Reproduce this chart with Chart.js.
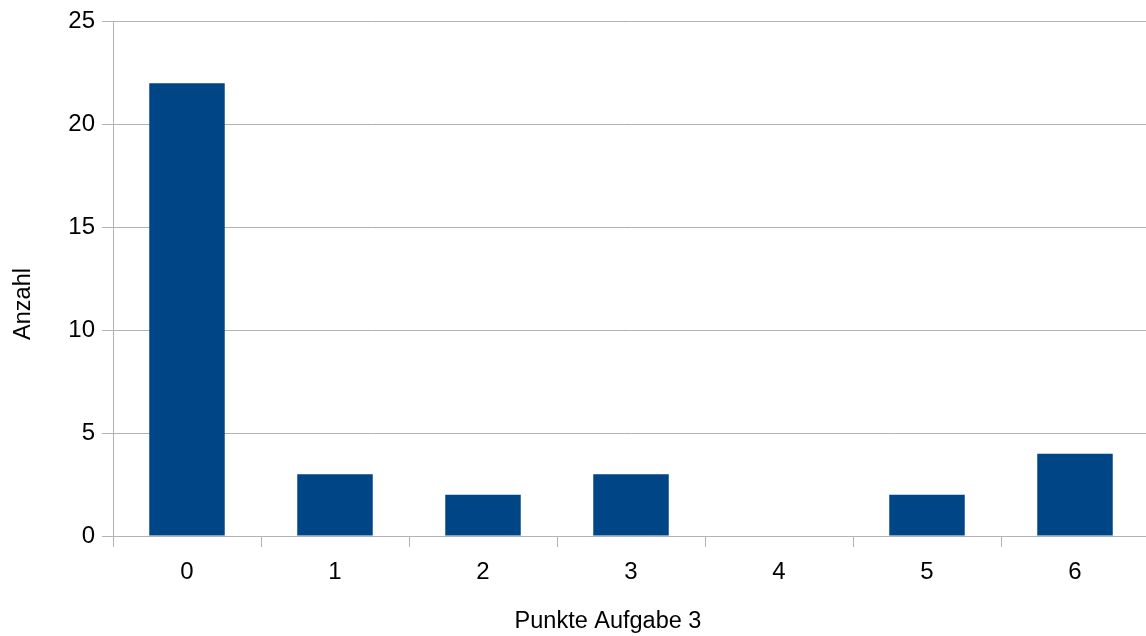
<!DOCTYPE html>
<html>
<head>
<meta charset="utf-8">
<script src="https://cdn.jsdelivr.net/npm/chart.js@4/dist/chart.umd.min.js"></script>
<style>
  html, body { margin: 0; padding: 0; background: #fff; overflow: hidden; }
</style>
</head>
<body>
<!-- plot runs a few px past the right edge in the original -->
<canvas id="chart" width="1149" height="636"></canvas>
<script>
const punkte = ['0', '1', '2', '3', '4', '5', '6'];
const anzahl = [22, 3, 2, 3, 0, 2, 4];
const yTicks = [0, 5, 10, 15, 20, 25];
const xTitle = 'Punkte Aufgabe 3';
const yTitle = 'Anzahl';

const gridGrey = '#b3b3b3';
const fontName = '"Liberation Sans", Arial, sans-serif';

// axis titles sit off-centre in the original, so draw them by hand
const axisTitles = {
    id: 'axisTitles',
    afterDraw(chart) {
        const c = chart.ctx;
        c.save();
        c.fillStyle = '#000';
        c.font = '23.5px ' + fontName;
        c.textAlign = 'center';
        c.textBaseline = 'alphabetic';
        c.fillText(xTitle, 608, 628);
        c.translate(30, 304);
        c.rotate(-Math.PI / 2);
        c.fillText(yTitle, 0, 0);
        c.restore();
    }
};

const ctx = document.getElementById('chart').getContext('2d');
new Chart(ctx, {
    type: 'bar',
    data: {
        labels: punkte,
        datasets: [{
            label: yTitle,
            data: anzahl,
            backgroundColor: '#004586',
            borderWidth: 0,
            barPercentage: 0.51,
            categoryPercentage: 1.0
        }]
    },
    plugins: [axisTitles],
    options: {
        responsive: false,
        animation: false,
        layout: { padding: { top: 20, right: 0, left: 0, bottom: 0 } },
        plugins: {
            legend: { display: false },
            tooltip: { enabled: false }
        },
        scales: {
            x: {
                offset: true,
                grid: {
                    offset: true,
                    drawOnChartArea: false,
                    color: gridGrey,
                    tickLength: 11
                },
                border: { color: gridGrey },
                ticks: {
                    color: '#000',
                    padding: 11,
                    font: { family: fontName, size: 24 }
                },
                afterFit: scale => { scale.height = 100; }
            },
            y: {
                min: 0,
                max: 25,
                afterBuildTicks: scale => { scale.ticks = yTicks.map(v => ({ value: v })); },
                grid: {
                    color: gridGrey,
                    tickLength: 11
                },
                border: { color: gridGrey },
                ticks: {
                    color: '#000',
                    padding: 7,
                    font: { family: fontName, size: 24 }
                },
                afterFit: scale => { scale.width = 113; }
            }
        }
    }
});
</script>
</body>
</html>
